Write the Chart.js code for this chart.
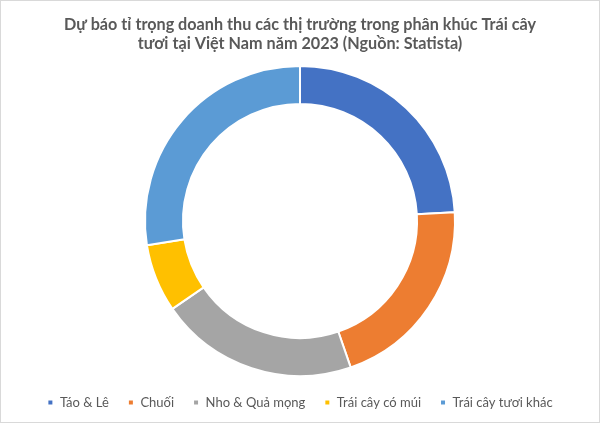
<!DOCTYPE html>
<html>
<head>
<meta charset="utf-8">
<script src="https://cdn.jsdelivr.net/npm/chart.js@4.4.0/dist/chart.umd.min.js"></script>
<style>
  html, body { margin: 0; padding: 0; background: #fff; }
  #wrap { position: relative; width: 600px; height: 423px; box-sizing: border-box; border: 1px solid #d9d9d9; }
  canvas { display: block; }
</style>
</head>
<body>
<div id="wrap"><canvas id="chart" width="598" height="421"></canvas></div>
<script>
// Data (share of revenue, %)
const categories = ['Táo & Lê', 'Chuối', 'Nho & Quả mọng', 'Trái cây có múi', 'Trái cây tươi khác'];
const shares = [24.1, 20.6, 20.7, 7.1, 27.5];
const colors = ['#4472C4', '#ED7D31', '#A5A5A5', '#FFC000', '#5B9BD5'];
const titleLines = ['Dự báo tỉ trọng doanh thu các thị trường trong phân khúc Trái cây', 'tươi tại Việt Nam năm 2023 (Nguồn: Statista)'];

Chart.defaults.font.family = "Lato, 'Noto Sans', sans-serif";
Chart.defaults.color = '#595959';

const ctx = document.getElementById('chart').getContext('2d');
const chart = new Chart(ctx, {
    type: 'doughnut',
    data: {
        labels: categories,
        datasets: [{
            data: shares,
            backgroundColor: colors,
            borderColor: '#ffffff',
            borderWidth: 2
        }]
    },
    options: {
        responsive: false,
        animation: false,
        radius: 155,
        cutout: '75.5%',
        layout: {
            padding: { top: 0, bottom: 3, left: 0, right: 0 }
        },
        plugins: {
            title: {
                display: true,
                text: titleLines,
                color: '#595959',
                font: { size: 16.2, weight: 'bold', lineHeight: 1.2 },
                padding: { top: 14, bottom: 11 }
            },
            legend: {
                position: 'bottom',
                labels: {
                    boxWidth: 6,
                    boxHeight: 6,
                    padding: 19,
                    color: '#595959',
                    font: { size: 13 }
                }
            },
            tooltip: { enabled: false }
        }
    }
});
</script>
</body>
</html>
